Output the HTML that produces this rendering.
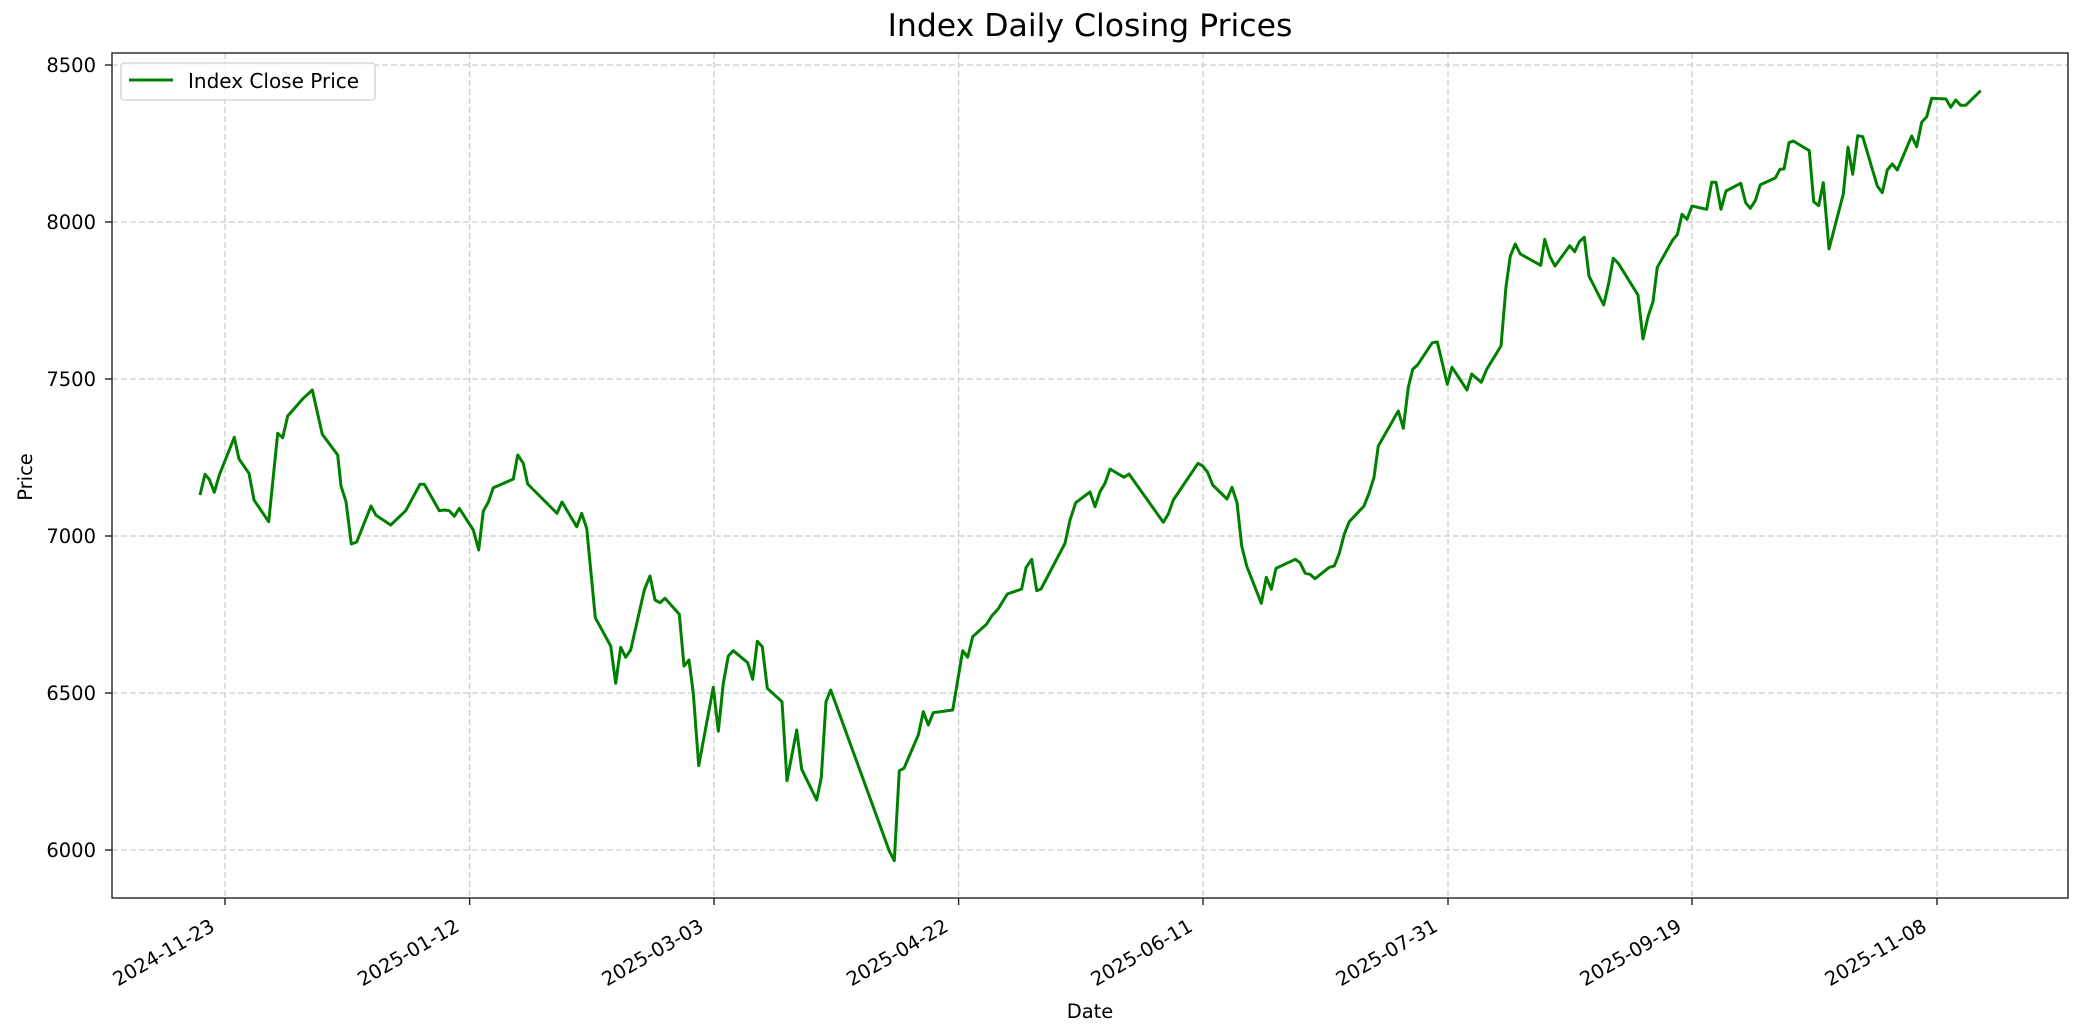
<!DOCTYPE html>
<html><head><meta charset="utf-8"><style>html,body{margin:0;padding:0;background:#fff}svg{display:block}text{font-family:"DejaVu Sans","Liberation Sans",sans-serif;fill:#000}</style></head>
<body>
<svg width="2084" height="1035" viewBox="0 0 2084 1035" xmlns="http://www.w3.org/2000/svg">
<rect width="2084" height="1035" fill="#fff"/>
<g stroke="#cccccc" stroke-width="1.3" stroke-dasharray="6,3">
<line x1="225" y1="53" x2="225" y2="898"/><line x1="469.6" y1="53" x2="469.6" y2="898"/><line x1="714" y1="53" x2="714" y2="898"/><line x1="958.6" y1="53" x2="958.6" y2="898"/><line x1="1203" y1="53" x2="1203" y2="898"/><line x1="1448" y1="53" x2="1448" y2="898"/><line x1="1692" y1="53" x2="1692" y2="898"/><line x1="1937" y1="53" x2="1937" y2="898"/>
<line x1="112" y1="65" x2="2068" y2="65"/><line x1="112" y1="222" x2="2068" y2="222"/><line x1="112" y1="379" x2="2068" y2="379"/><line x1="112" y1="536" x2="2068" y2="536"/><line x1="112" y1="693" x2="2068" y2="693"/><line x1="112" y1="850" x2="2068" y2="850"/>
</g>
<polyline fill="none" stroke="#008000" stroke-width="3" stroke-linejoin="round" points="200,495 205,474.3 209.3,479.3 214.3,492.3 219.3,475 234.3,437.3 239,459 249,473.3 254,500 268.7,521.7 277.7,433.3 282.7,437.7 287.7,416 303.3,398.3 312.3,390 322.3,434.3 337.7,455 341,486 346,501.7 351.3,544 356.7,542 371,506 376,515.3 390.7,525 405.7,510.7 420,484.3 424.3,484.3 439.3,510.7 444.3,510 449.3,510.7 454.3,516.3 459.3,508.3 473.3,530 478.7,550 483.3,511 488.3,502.3 493.3,487.7 508.3,481.3 513.3,479 517.7,455 523.3,463.3 527.7,484 557,513.3 562,502 576.7,526.7 581.7,513.3 586.7,528.3 595.3,617.7 610.7,646 615.7,683.3 620.7,647.3 625.7,657.3 630.7,650 644.3,590 650,576 655,600 660,602.7 665,598.3 679.3,614.3 684,666 689,660 693.3,693.3 698.7,765.7 713.3,687.3 718.3,731.3 723.3,683.3 728.3,656 733.3,650.7 747.7,662.7 752.7,679.3 757.3,641.3 762.3,646.7 767.3,688.3 782,701.7 787,780.7 796.7,730 801.7,769.3 816.7,800 821.3,777.3 826,701.7 830.7,690 889.3,851 894.3,860.7 899.3,770.7 904,768.3 918.3,735 923.3,711.7 928.3,725 933.3,712.7 952.7,710 962.7,650.7 967.7,657.3 972.7,636.7 986.7,624 991.7,616 998.3,608.7 1007.3,594 1021.7,589 1026,567.7 1031.7,559.3 1036.7,590.7 1041,589 1065,543.3 1070,520 1075.7,502.7 1090,492 1095,506.7 1100,491.7 1105,483.3 1110,469 1124,477.3 1129,474 1163.3,522.3 1168.3,514 1173.3,500 1198,463.3 1202.7,466 1207.7,472.3 1212.7,485 1227,499 1232,487.3 1237,502.7 1241.7,546 1246.7,566 1261.3,603.3 1266.3,577.3 1271.3,589.3 1276,568.3 1295.3,559.3 1300,562.7 1305.3,573.3 1310,574.3 1315,578.7 1329.3,567.3 1334.3,566 1339.3,553.3 1344.3,534 1349.3,521.7 1364,506 1369,493.3 1374,477.3 1378.3,446 1383.3,437.3 1398.3,411 1403.3,428.3 1408.3,387.3 1412.7,369.3 1417.3,365.3 1432.3,342.7 1437.3,342 1447.3,384.3 1452,367.3 1467,390 1471.7,374 1481.3,382.3 1486.7,369.3 1501,346 1506,286.7 1510.3,256 1515.3,244 1520.3,254 1540.7,265.3 1544.7,239.3 1550,256.7 1555,266 1569.7,245.7 1574.7,251.7 1579.3,241.7 1584.3,237.3 1589,276 1603.7,305 1608.7,283.3 1613.3,258.3 1618.3,263.3 1638,295 1643,339 1648,316.7 1653,301.7 1657.3,267.3 1672.7,240 1677.3,234.7 1682,214.3 1687,219.3 1692,206 1706.7,209.3 1711.7,182.3 1716,182.3 1721,209.3 1726,191 1740.7,183.3 1745.7,202.7 1750.3,208.3 1755.3,200.7 1760.3,184.7 1775.3,178 1780,169.3 1784,169 1789,142.7 1793.3,141 1809.3,150.7 1813.7,201.7 1818.7,205.7 1823.3,182.7 1829,249 1843.3,194 1848,147.3 1852.7,174.3 1857.7,135.7 1862.7,136.7 1877.3,186 1882.3,192.7 1887.3,170 1892.3,164 1897.3,170 1911.7,136 1916.7,146.7 1921.7,122.3 1926.7,116.7 1931.7,98.3 1946,99 1950.7,107.3 1955.7,100 1960.7,105.3 1965.7,105.3 1980.7,90.7"/>
<rect x="112" y="53" width="1956" height="845" fill="none" stroke="#222" stroke-width="1.4"/>
<g stroke="#222" stroke-width="1.4">
<line x1="105" y1="65" x2="112" y2="65"/><line x1="105" y1="222" x2="112" y2="222"/><line x1="105" y1="379" x2="112" y2="379"/><line x1="105" y1="536" x2="112" y2="536"/><line x1="105" y1="693" x2="112" y2="693"/><line x1="105" y1="850" x2="112" y2="850"/>
<line x1="225" y1="898" x2="225" y2="905"/><line x1="469.6" y1="898" x2="469.6" y2="905"/><line x1="714" y1="898" x2="714" y2="905"/><line x1="958.6" y1="898" x2="958.6" y2="905"/><line x1="1203" y1="898" x2="1203" y2="905"/><line x1="1448" y1="898" x2="1448" y2="905"/><line x1="1692" y1="898" x2="1692" y2="905"/><line x1="1937" y1="898" x2="1937" y2="905"/>
</g>
<g font-size="19.5" text-anchor="end">
<text x="96" y="72">8500</text><text x="96" y="229">8000</text><text x="96" y="386">7500</text><text x="96" y="543">7000</text><text x="96" y="700">6500</text><text x="96" y="857">6000</text>
</g>
<g font-size="19.5" text-anchor="end">
<text transform="translate(216,930) rotate(-30)">2024-11-23</text>
<text transform="translate(460.6,930) rotate(-30)">2025-01-12</text>
<text transform="translate(705,930) rotate(-30)">2025-03-03</text>
<text transform="translate(949.6,930) rotate(-30)">2025-04-22</text>
<text transform="translate(1194,930) rotate(-30)">2025-06-11</text>
<text transform="translate(1439,930) rotate(-30)">2025-07-31</text>
<text transform="translate(1683,930) rotate(-30)">2025-09-19</text>
<text transform="translate(1928,930) rotate(-30)">2025-11-08</text>
</g>
<text x="1090" y="1018" font-size="19.5" text-anchor="middle">Date</text>
<text transform="translate(32,477) rotate(-90)" font-size="19.5" text-anchor="middle">Price</text>
<text x="1090" y="36" font-size="31.5" text-anchor="middle">Index Daily Closing Prices</text>
<rect x="121" y="63" width="254" height="37" rx="3" fill="#fff" fill-opacity="0.8" stroke="#d0d0d0" stroke-width="1.3"/>
<line x1="129" y1="80" x2="173" y2="80" stroke="#008000" stroke-width="3"/>
<text x="188" y="88" font-size="20">Index Close Price</text>
</svg>
</body></html>
